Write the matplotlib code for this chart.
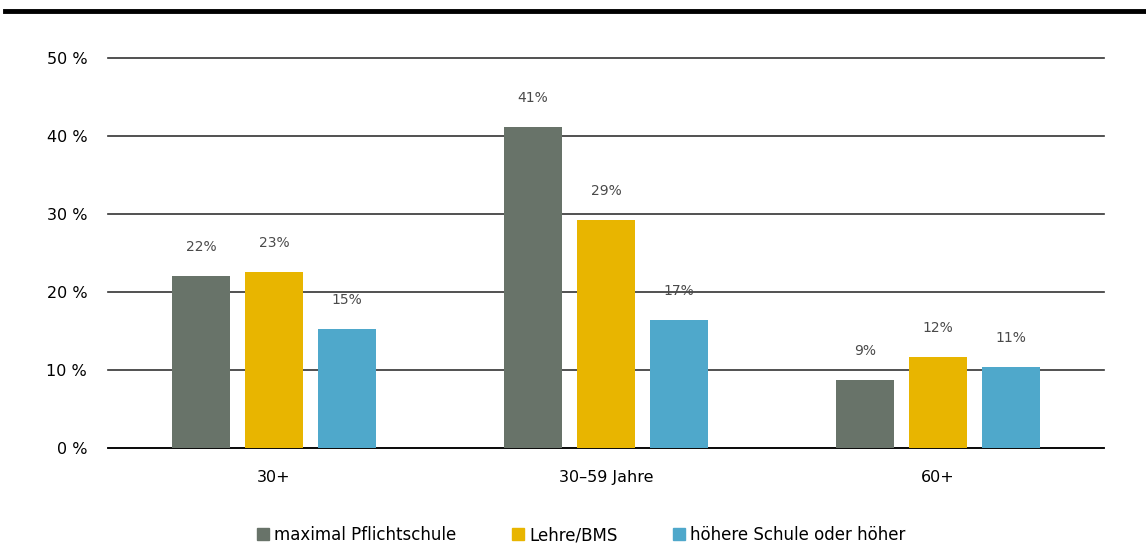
import numpy as np
import matplotlib.pyplot as plt
from matplotlib.lines import Line2D

categories = ['30+', '30–59 Jahre', '60+']
series = ['maximal Pflichtschule', 'Lehre/BMS', 'höhere Schule oder höher']
values = [
    [22.1, 41.2, 8.7],
    [22.6, 29.2, 11.7],
    [15.3, 16.4, 10.4],
]
labels = [
    ['22%', '41%', '9%'],
    ['23%', '29%', '12%'],
    ['15%', '17%', '11%'],
]
colors = ['#687369', '#E8B500', '#4FA8CB']

plt.rcParams['font.family'] = ['DejaVu Sans']

fig = plt.figure(figsize=(11.46, 5.56), dpi=100)
ax = fig.add_axes([108 / 1146, 1 - 448 / 556, 996 / 1146, 390 / 556])

x = np.arange(len(categories))
w = 0.175
step = 0.22
for i, (vals, labs, c) in enumerate(zip(values, labels, colors)):
    pos = x + (i - 1) * step
    ax.bar(pos, vals, width=w, color=c, zorder=3)
    for px, v, lab in zip(pos, vals, labs):
        ax.text(px, v + 2.8, lab, ha='center', va='bottom', fontsize=10, color='#4a4a4a')

ax.set_xlim(-0.5, 2.5)
ax.set_ylim(0, 50)
ax.set_yticks(range(0, 51, 10))
ax.set_yticklabels([f'{t} %' for t in range(0, 51, 10)], fontsize=11.5)
ax.set_xticks(x)
ax.set_xticklabels(categories, fontsize=11.5)
ax.tick_params(axis='both', length=0)
ax.tick_params(axis='y', pad=15)
ax.tick_params(axis='x', pad=16)
ax.grid(axis='y', color='#333333', linewidth=1.2, zorder=0)
for gl in ax.get_ygridlines():
    gl.set_clip_on(False)
for s in ['top', 'right', 'left']:
    ax.spines[s].set_visible(False)
ax.spines['bottom'].set_color('#000000')
ax.spines['bottom'].set_linewidth(1.2)

handles = [Line2D([], [], marker='s', linestyle='', markersize=9, color=c) for c in colors]
fig.legend(handles, series, loc='center', bbox_to_anchor=(581 / 1146, 1 - 535 / 556),
           ncol=3, frameon=False, fontsize=12, handletextpad=0.25, columnspacing=3.3,
           handlelength=0.8)

# dicke Linie oben
fig.add_artist(Line2D([5 / 1146, 1], [1 - 11 / 556, 1 - 11 / 556], color='black', linewidth=3.5))

fig.savefig('out.png', dpi=100)
